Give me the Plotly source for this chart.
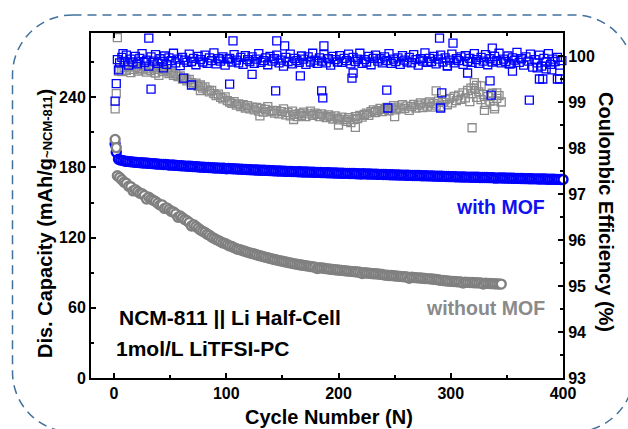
import plotly.graph_objects as go

# ---------------- data ----------------
# Discharge capacity, with MOF: cycles 1, 2, then 4, 6, ..., 400
cap_mof_first = [200.0, 193.0]
cap_mof_rest = [
    187.0, 186.3, 185.9, 185.4, 185.2, 185.0, 184.8, 184.6, 184.4, 184.2,
    184.1, 183.9, 183.8, 183.6, 183.5, 183.3, 183.2, 183.0, 182.9, 182.7,
    182.6, 182.5, 182.3, 182.0, 182.1, 181.9, 181.8, 181.6, 181.5, 181.4,
    181.2, 181.1, 181.0, 180.8, 180.7, 180.6, 180.4, 180.3, 180.2, 180.1,
    180.0, 179.9, 179.8, 179.6, 179.6, 179.5, 179.4, 179.3, 178.9, 179.1,
    179.0, 178.9, 178.8, 178.7, 178.6, 178.5, 178.4, 178.3, 178.2, 178.1,
    178.0, 177.9, 177.8, 177.7, 177.7, 177.6, 177.5, 177.4, 177.3, 177.2,
    177.1, 177.0, 177.0, 176.9, 176.8, 176.7, 176.7, 176.6, 176.5, 176.5,
    176.4, 176.3, 176.2, 176.2, 176.1, 176.0, 176.0, 175.9, 175.8, 175.8,
    175.7, 175.6, 175.6, 175.5, 175.5, 175.4, 175.3, 175.3, 175.2, 175.1,
    175.1, 175.0, 175.0, 174.9, 174.8, 174.8, 174.7, 174.7, 174.4, 174.6,
    174.5, 174.4, 174.4, 174.3, 174.3, 174.2, 174.1, 174.1, 174.0, 174.0,
    173.9, 173.8, 173.8, 173.7, 173.7, 173.6, 173.5, 173.5, 173.4, 173.4,
    173.3, 173.2, 173.2, 173.1, 173.1, 173.0, 172.9, 172.9, 172.8, 172.8,
    172.7, 172.6, 172.6, 172.5, 172.5, 172.4, 172.3, 172.3, 172.2, 172.2,
    172.1, 172.0, 172.0, 171.9, 171.9, 171.8, 171.8, 171.7, 171.7, 171.6,
    171.6, 171.5, 171.5, 171.4, 171.4, 171.3, 171.3, 171.2, 170.9, 171.1,
    171.1, 171.0, 171.0, 170.9, 170.9, 170.8, 170.8, 170.7, 170.7, 170.6,
    170.6, 170.5, 170.5, 170.4, 170.4, 170.3, 170.3, 170.2, 170.2, 170.1,
    170.1, 170.0, 170.0, 169.9, 169.9, 169.8, 169.8, 169.7, 169.7,
]
cap_mof_cycles = [1, 2] + list(range(4, 4 + 2 * len(cap_mof_rest), 2))
cap_mof = cap_mof_first + cap_mof_rest

# Discharge capacity, without MOF: cycles 1, 2, then 3, 5, ..., 345
cap_bare_first = [204.0, 197.0]
cap_bare_rest = [
    173.0, 171.5, 169.5, 167.5, 166.5, 164.0, 163.5, 160.0, 161.0, 159.5,
    158.0, 157.5, 156.0, 153.0, 154.5, 153.0, 152.0, 151.0, 149.5, 148.0,
    148.0, 145.0, 145.5, 144.0, 142.5, 142.0, 140.5, 137.5, 138.5, 137.0,
    135.5, 134.5, 133.0, 130.0, 131.0, 129.5, 128.0, 126.5, 125.5, 124.5,
    123.0, 122.0, 120.5, 119.5, 118.5, 117.5, 116.5, 115.5, 115.0, 114.0,
    113.0, 112.5, 111.5, 110.5, 110.0, 109.5, 108.8, 108.2, 107.6, 107.0,
    106.5, 106.0, 105.4, 104.8, 104.3, 103.8, 103.3, 102.8, 102.3, 101.8,
    101.3, 100.9, 100.4, 100.0, 99.6, 99.2, 98.8, 98.4, 98.0, 97.6,
    97.3, 96.9, 96.6, 96.3, 96.0, 95.7, 95.4, 95.1, 94.8, 93.6,
    94.3, 94.0, 93.8, 93.5, 93.3, 93.0, 92.8, 92.6, 92.4, 92.2,
    92.0, 91.8, 91.6, 91.4, 91.2, 91.0, 90.8, 90.6, 90.4, 89.3,
    90.0, 89.8, 89.6, 89.4, 89.2, 89.1, 88.9, 88.7, 88.5, 88.0,
    87.9, 87.7, 87.6, 87.4, 87.2, 87.1, 86.9, 86.7, 86.6, 86.4,
    85.3, 86.1, 85.9, 85.8, 85.6, 85.5, 85.3, 85.1, 85.0, 84.8,
    84.6, 84.4, 84.2, 84.0, 83.5, 83.4, 83.2, 83.0, 82.8, 82.6,
    82.5, 82.4, 82.2, 82.1, 81.2, 81.9, 81.8, 81.7, 81.6, 81.5,
    81.4, 81.3, 81.2, 80.3, 81.0, 80.9, 80.8, 80.7, 80.6, 80.5,
    80.4, 80.3,
]
cap_bare_cycles = [1, 2] + list(range(3, 3 + 2 * len(cap_bare_rest), 2))
cap_bare = cap_bare_first + cap_bare_rest

# Coulombic efficiency, with MOF: cycles 1, 2, then 3, 5, ..., 399, plus scattered points
ce_mof_first = [99.02, 99.40]
ce_mof_rest = [
    99.92, 99.85, 99.97, 99.88, 100.02, 99.80, 99.93, 99.87, 99.99, 99.83,
    99.95, 100.05, 99.86, 99.91, 99.78, 99.98, 99.89, 100.03, 99.84, 99.94,
    99.88, 100.00, 99.82, 99.96, 99.90, 100.06, 99.85, 99.93, 99.79, 99.97,
    99.91, 99.86, 100.04, 99.88, 99.95, 99.81, 99.99, 99.92, 99.87, 100.02,
    99.84, 99.96, 99.90, 100.07, 99.83, 99.94, 99.89, 99.98, 99.80, 99.93,
    99.95, 99.87, 100.03, 99.91, 99.85, 99.97, 99.82, 100.01, 99.92, 99.88,
    99.98, 99.84, 99.93, 100.05, 99.86, 99.90, 99.96, 99.81, 99.99, 99.89,
    99.94, 100.02, 99.85, 99.91, 99.78, 99.97, 99.88, 100.04, 99.83, 99.95,
    99.90, 99.86, 100.00, 99.93, 99.82, 99.98, 99.87, 100.06, 99.91, 99.84,
    99.96, 99.89, 100.03, 99.85, 99.94, 99.80, 99.99, 99.92, 99.87, 100.01,
    99.86, 99.95, 99.90, 100.04, 99.83, 99.97, 99.88, 99.93, 100.06, 99.84,
    99.92, 99.87, 99.99, 99.81, 99.95, 100.02, 99.89, 99.94, 99.85, 99.98,
    99.90, 100.05, 99.84, 99.93, 99.88, 99.96, 99.82, 100.01, 99.91, 99.87,
    99.97, 99.85, 100.03, 99.92, 99.80, 99.94, 99.89, 100.07, 99.86, 99.95,
    99.88, 99.99, 99.83, 99.93, 100.02, 99.87, 99.96, 99.79, 99.91, 100.04,
    99.85, 99.94, 99.90, 99.98, 99.82, 100.01, 99.88, 99.95, 99.86, 100.05,
    99.92, 99.84, 99.97, 99.89, 100.03, 99.81, 99.94, 99.87, 99.99, 99.90,
    100.06, 99.85, 99.93, 99.88, 100.00, 99.83, 99.96, 99.91, 100.08, 99.86,
    99.94, 99.80, 99.98, 99.89, 100.04, 99.76, 99.92, 99.85, 100.02, 99.78,
    99.95, 99.87, 100.05, 99.82, 99.93, 99.88, 99.97, 99.80, 99.90,
]
ce_mof_scatter_cycles = [4, 8, 31, 33, 44, 62, 69, 103, 106, 123, 144, 145, 152, 166,
                         185, 186, 187, 212, 213, 243, 244, 290, 291, 292, 297, 302,
                         315, 335, 336, 337, 352, 355, 370, 377, 379, 382, 385, 390,
                         395, 397]
ce_mof_scatter = [99.70, 100.05, 100.39, 99.28, 99.74, 99.52, 99.37, 99.39, 100.33, 99.60,
                  99.24, 100.33, 100.22, 99.57, 99.24, 99.09, 100.22, 99.52, 99.63, 99.26,
                  98.87, 100.39, 98.87, 99.20, 99.78, 100.28, 99.63, 99.46, 99.15, 100.17,
                  99.83, 99.67, 99.04, 99.74, 99.50, 99.50, 99.72, 99.70, 99.50, 99.50]
ce_mof_cycles = [1, 2] + list(range(3, 3 + 2 * len(ce_mof_rest), 2)) + ce_mof_scatter_cycles
ce_mof = ce_mof_first + ce_mof_rest + ce_mof_scatter

# Coulombic efficiency, without MOF: cycles 1-4, then 5, 7, ..., 345, plus scattered points
ce_bare_first = [98.85, 99.18, 100.40, 99.67]
ce_bare_rest = [
    99.72, 99.66, 99.75, 99.69, 99.78, 99.64, 99.71, 99.76, 99.67, 99.73,
    99.70, 99.77, 99.65, 99.72, 99.68, 99.75, 99.63, 99.71, 99.74, 99.66,
    99.70, 99.67, 99.62, 99.65, 99.58, 99.61, 99.55, 99.57, 99.50, 99.52,
    99.46, 99.49, 99.42, 99.38, 99.41, 99.34, 99.37, 99.30, 99.33, 99.26,
    99.22, 99.25, 99.18, 99.14, 99.17, 99.10, 99.07, 99.11, 99.03, 99.00,
    98.97, 99.01, 98.93, 98.96, 98.90, 98.94, 98.87, 98.92, 98.85, 98.89,
    98.83, 98.88, 98.80, 98.86, 98.78, 98.84, 98.90, 98.79, 98.82, 98.76,
    98.81, 98.74, 98.79, 98.85, 98.72, 98.77, 98.70, 98.80, 98.73, 98.68,
    98.75, 98.71, 98.78, 98.68, 98.74, 98.80, 98.71, 98.76, 98.73, 98.68,
    98.74, 98.70, 98.66, 98.72, 98.68, 98.63, 98.70, 98.65, 98.61, 98.67,
    98.62, 98.58, 98.66, 98.55, 98.62, 98.68, 98.64, 98.71, 98.67, 98.73,
    98.76, 98.71, 98.79, 98.83, 98.77, 98.81, 98.86, 98.79, 98.84, 98.88,
    98.81, 98.87, 98.92, 98.83, 98.89, 98.85, 98.94, 98.86, 98.91, 98.82,
    98.90, 98.95, 98.87, 98.93, 98.98, 98.88, 98.96, 98.91, 99.00, 98.89,
    98.97, 98.93, 99.02, 98.90, 98.99, 99.05, 98.94, 99.08, 98.98, 99.12,
    99.03, 99.15, 99.06, 99.20, 99.09, 99.25, 99.01, 99.18, 99.30, 99.10,
    99.22, 99.05, 99.16, 98.95, 99.12, 99.02, 99.19, 98.90, 99.08, 99.14,
    99.00,
]
ce_bare_scatter_cycles = [16, 40, 77, 130, 160, 200, 215, 250, 287, 318, 319, 321, 323,
                          327, 330, 339, 341]
ce_bare_scatter = [99.85, 99.58, 99.25, 98.70, 98.62, 98.50, 98.45, 98.68, 99.24, 99.30,
                   98.44, 99.42, 99.36, 99.35, 98.82, 98.85, 99.20]
ce_bare_cycles = [1, 2, 3, 4] + list(range(5, 5 + 2 * len(ce_bare_rest), 2)) + ce_bare_scatter_cycles
ce_bare = ce_bare_first + ce_bare_rest + ce_bare_scatter

x_ticks = [0, 100, 200, 300, 400]
cap_ticks = [0, 60, 120, 180, 240]
ce_ticks = [93, 94, 95, 96, 97, 98, 99, 100]

# ---------------- styling ----------------
BLUE = "#0000ff"
GREY = "#808080"
GREY_SQ = "#8c8c8c"
FONT = "Liberation Sans, Arial, sans-serif"

# plot-area pixel geometry (628 x 429 canvas)
PL, PR, PT, PB = 91, 563, 33, 378


def paper(px, py):
    return (px - PL) / (PR - PL), (PB - py) / (PB - PT)


fig = go.Figure()

fig.add_trace(go.Scatter(
    x=cap_mof_cycles, y=cap_mof, mode="markers", yaxis="y",
    marker=dict(symbol="circle", size=9, color="white", line=dict(color=BLUE, width=2.4)),
    showlegend=False, cliponaxis=False))
fig.add_trace(go.Scatter(
    x=cap_bare_cycles, y=cap_bare, mode="markers", yaxis="y",
    marker=dict(symbol="circle", size=9, color="white", line=dict(color=GREY, width=2.4)),
    showlegend=False, cliponaxis=False))
fig.add_trace(go.Scatter(
    x=ce_bare_cycles, y=ce_bare, mode="markers", yaxis="y2",
    marker=dict(symbol="square-open", size=8, color=GREY_SQ, line=dict(width=1.3)),
    showlegend=False, cliponaxis=False))
fig.add_trace(go.Scatter(
    x=ce_mof_cycles, y=ce_mof, mode="markers", yaxis="y2",
    marker=dict(symbol="square-open", size=8, color=BLUE, line=dict(width=1.3)),
    showlegend=False, cliponaxis=False))

tickfont = dict(family=FONT, size=16, color="black", weight="bold")
common = dict(showline=True, linewidth=2, linecolor="black", ticks="inside",
              ticklen=5, tickwidth=2, tickcolor="black", showgrid=False,
              zeroline=False, tickfont=tickfont)

fig.update_layout(
    width=628, height=429, autosize=False,
    margin=dict(l=PL, r=628 - PR, t=PT, b=429 - PB),
    paper_bgcolor="white", plot_bgcolor="white",
    xaxis=dict(range=[-20.5, 400], tickvals=x_ticks, mirror="ticks",
               minor=dict(tickvals=[50, 150, 250, 350], ticks="inside", ticklen=3,
                          tickwidth=1.5, tickcolor="black"),
               **common),
    yaxis=dict(range=[0, 295], tickvals=cap_ticks,
               minor=dict(tickvals=[30, 90, 150, 210, 270], ticks="inside", ticklen=3,
                          tickwidth=1.5, tickcolor="black"),
               **common),
    yaxis2=dict(range=[93, 100.5], tickvals=ce_ticks, overlaying="y", side="right",
                minor=dict(tickvals=[93.5, 94.5, 95.5, 96.5, 97.5, 98.5, 99.5],
                           ticks="inside", ticklen=3, tickwidth=1.5, tickcolor="black"),
                **common),
)

annots = []
# axis titles
x, y = paper(328.5, 417)
annots.append(dict(x=x, y=y, text="Cycle Number (N)", textangle=0,
                   font=dict(family=FONT, size=20, color="black", weight="bold")))
x, y = paper(45, 224)
annots.append(dict(x=x, y=y, textangle=-90,
                   text="Dis. Capacity (mAh/g<span style='font-size:13px'>~NCM-811</span>)",
                   font=dict(family=FONT, size=20, color="black", weight="bold")))
x, y = paper(606, 212)
annots.append(dict(x=x, y=y, textangle=90, text="Coulombic Efficiency (%)",
                   font=dict(family=FONT, size=20, color="black", weight="bold")))
# in-plot labels
x, y = paper(117, 317)
annots.append(dict(x=x, y=y, xanchor="left", text="NCM-811 || Li Half-Cell",
                   font=dict(family=FONT, size=21, color="black", weight="bold")))
x, y = paper(114, 348)
annots.append(dict(x=x, y=y, xanchor="left", text="1mol/L LiTFSI-PC",
                   font=dict(family=FONT, size=21, color="black", weight="bold")))
x, y = paper(547, 207)
annots.append(dict(x=x, y=y, xanchor="right", text="with MOF",
                   font=dict(family=FONT, size=19.5, color="#1010f0", weight="bold")))
x, y = paper(547, 308)
annots.append(dict(x=x, y=y, xanchor="right", text="without MOF",
                   font=dict(family=FONT, size=19.5, color="#8a8a8a", weight="bold")))

for a in annots:
    a.update(xref="paper", yref="paper", showarrow=False)
    a.setdefault("xanchor", "center")
    a.setdefault("yanchor", "middle")
fig.update_layout(annotations=annots)

# dashed rounded frame
L, T, R, B, r = 12.5, 15, 634, 432, 60
k = 0.5523 * r


def P(px, py):
    a, b = paper(px, py)
    return f"{a:.5f},{b:.5f}"


path = (f"M {P(L + r, T)} L {P(R - r, T)} "
        f"C {P(R - r + k, T)} {P(R, T + r - k)} {P(R, T + r)} "
        f"L {P(R, B - r)} "
        f"C {P(R, B - r + k)} {P(R - r + k, B)} {P(R - r, B)} "
        f"L {P(L + r, B)} "
        f"C {P(L + r - k, B)} {P(L, B - r + k)} {P(L, B - r)} "
        f"L {P(L, T + r)} "
        f"C {P(L, T + r - k)} {P(L + r - k, T)} {P(L + r, T)} Z")
fig.add_shape(type="path", path=path, xref="paper", yref="paper",
              line=dict(color="#41719c", width=1.5, dash="9px,6px"), layer="below")

fig.write_html("out.html")
